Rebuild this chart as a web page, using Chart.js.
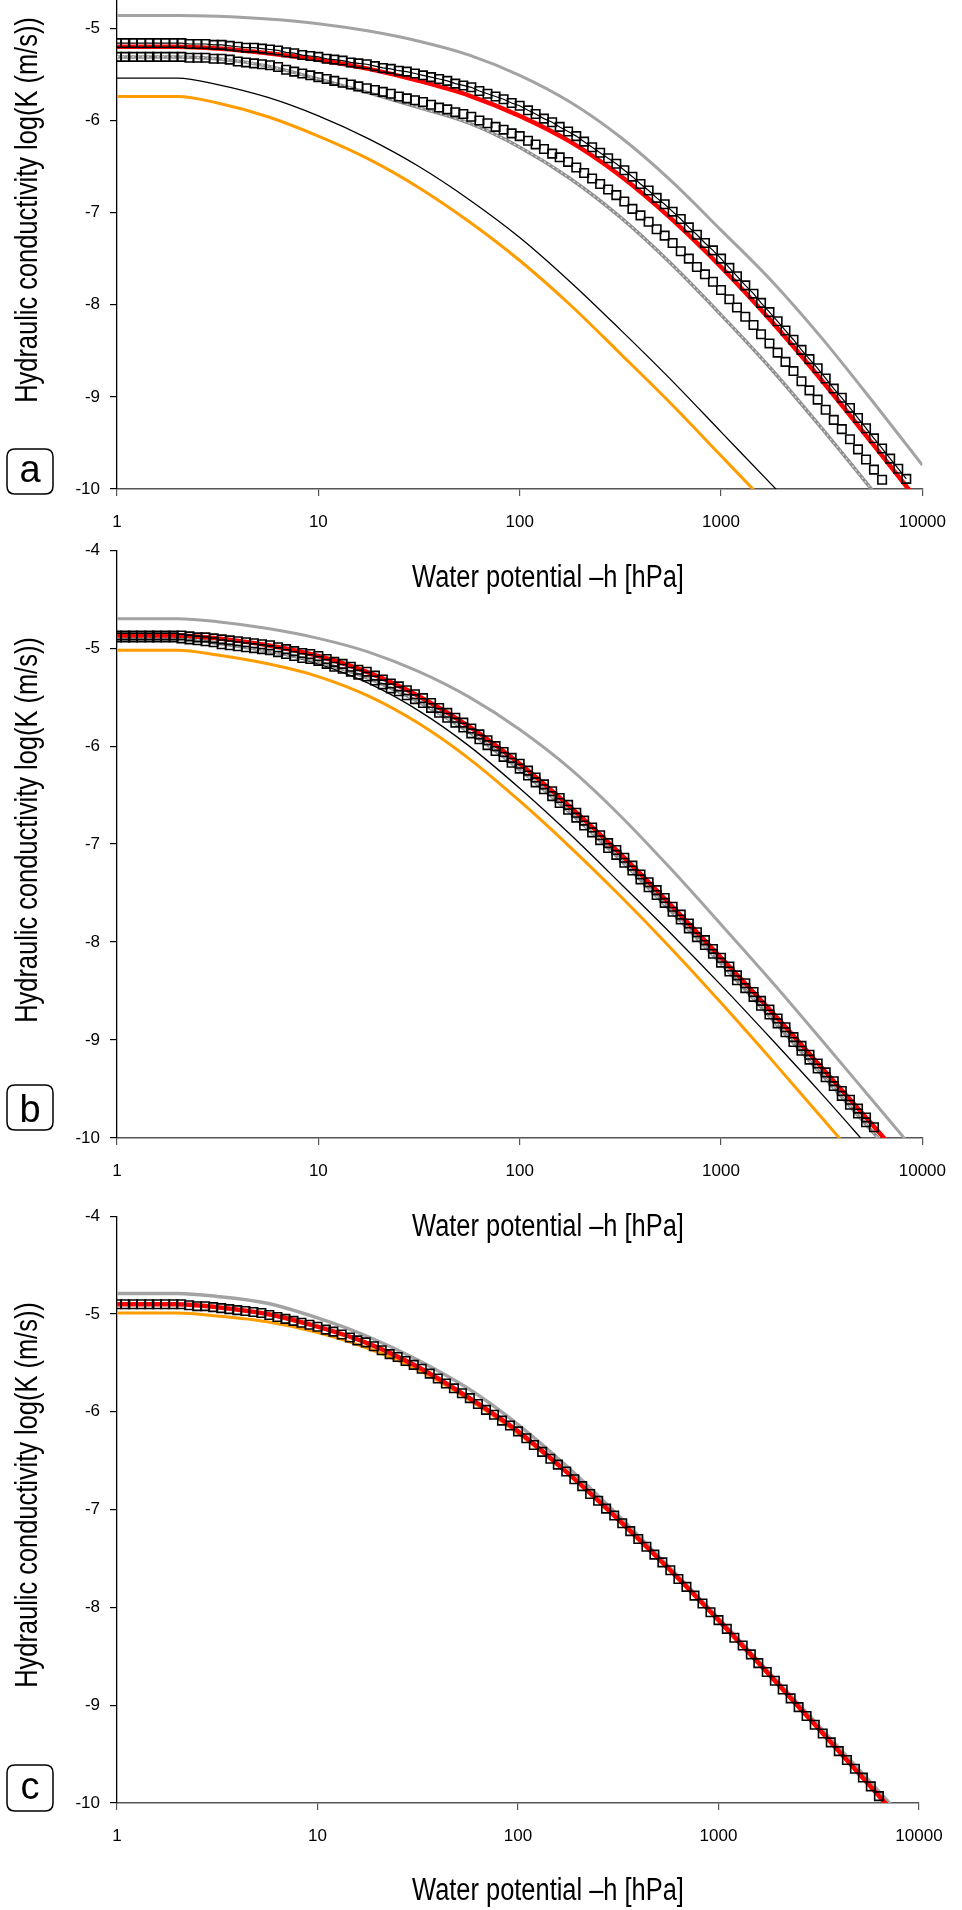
<!DOCTYPE html>
<html>
<head>
<meta charset="utf-8">
<script src="https://cdn.jsdelivr.net/npm/chart.js@4.4.1/dist/chart.umd.min.js"></script>
<style>
  html, body { margin: 0; padding: 0; background: #fff; }
  #page { position: relative; width: 962px; height: 1910px; overflow: hidden; }
  #page canvas { position: absolute; left: 0; }
</style>
</head>
<body>
<div id="page">
  <canvas id="chartA" width="962" height="684" style="top:-84px"></canvas>
  <canvas id="chartB" width="962" height="720" style="top:530px"></canvas>
  <canvas id="chartC" width="962" height="714" style="top:1196px"></canvas>
</div>
<script>
// DONNEES
const xTicks = [1, 10, 100, 1000, 10000];

// h pour les courbes continues
const hLine = [1, 2, 3.16, 5.62, 10, 17.8, 31.6, 56.2, 100, 178, 316, 562, 1000, 1780, 3160, 5620, 10000];

// h pour les carres (mesures)
const hGrid = [
  1, 1.1, 1.2, 1.32, 1.45, 1.58, 1.74, 1.91, 2.09, 2.29, 2.51, 2.75, 3.02, 3.31, 3.63, 3.98, 4.37, 4.79, 5.25, 5.75, 6.31, 6.92, 7.59, 8.32, 9.12,
  10, 11, 12, 13.2, 14.5, 15.8, 17.4, 19.1, 20.9, 22.9, 25.1, 27.5, 30.2, 33.1, 36.3, 39.8, 43.7, 47.9, 52.5, 57.5, 63.1, 69.2, 75.9, 83.2, 91.2,
  100, 110, 120, 132, 145, 158, 174, 191, 209, 229, 251, 275, 302, 331, 363, 398, 437, 479, 525, 575, 631, 692, 759, 832, 912,
  1000, 1100, 1200, 1320, 1450, 1580, 1740, 1910, 2090, 2290, 2510, 2750, 3020, 3310, 3630, 3980, 4370, 4790, 5250, 5750, 6310, 6920, 7590, 8320, 9120,
  10000
];

// panneau a
const aGrayTop = [-4.86, -4.86, -4.87, -4.90, -4.95, -5.03, -5.14, -5.29, -5.51, -5.80, -6.18, -6.65, -7.19, -7.74, -8.36, -9.04, -9.74];
const aRed     = [-5.20, -5.20, -5.22, -5.27, -5.34, -5.44, -5.57, -5.73, -5.95, -6.23, -6.60, -7.06, -7.59, -8.18, -8.82, -9.50, -10.19];
const aGrayJag = [-5.31, -5.31, -5.33, -5.41, -5.55, -5.70, -5.86, -6.03, -6.29, -6.63, -7.05, -7.55, -8.11, -8.70, -9.34, -10.01, -10.70];
const aBlack   = [-5.54, -5.54, -5.61, -5.75, -5.95, -6.20, -6.50, -6.86, -7.27, -7.75, -8.27, -8.81, -9.38, -9.95, -10.52, -11.10, -11.68];
const aOrange  = [-5.74, -5.74, -5.81, -5.96, -6.17, -6.42, -6.73, -7.10, -7.52, -8.00, -8.53, -9.07, -9.64, -10.21, -10.78, -11.36, -11.94];
const aUpperSq = [
  -5.16, -5.16, -5.16, -5.16, -5.16, -5.16, -5.16, -5.16,
  -5.16, -5.17, -5.17, -5.17, -5.18,
  -5.18, -5.19, -5.20, -5.21, -5.21, -5.22,
  -5.23, -5.24, -5.26, -5.27, -5.29, -5.30, -5.31,
  -5.33, -5.34, -5.35, -5.37, -5.38, -5.39,
  -5.41, -5.43, -5.44, -5.46, -5.47, -5.49,
  -5.51, -5.53, -5.55, -5.57, -5.60, -5.62,
  -5.64, -5.68, -5.71, -5.74, -5.77, -5.81, -5.84,
  -5.89, -5.93, -5.98, -6.02, -6.07, -6.12,
  -6.17, -6.23, -6.29, -6.35, -6.41, -6.47,
  -6.54, -6.61, -6.69, -6.76, -6.84, -6.91,
  -6.99, -7.07, -7.16, -7.24, -7.33, -7.41, -7.50,
  -7.60, -7.69, -7.79, -7.88, -7.98, -8.08,
  -8.18, -8.28, -8.38, -8.49, -8.59, -8.69,
  -8.80, -8.91, -9.01, -9.12, -9.23, -9.34,
  -9.45, -9.56, -9.67, -9.78, -9.89
];
const aLowerSq = [
  -5.31, -5.31, -5.31, -5.31, -5.31, -5.31, -5.31, -5.31,
  -5.31, -5.32, -5.32, -5.32, -5.33,
  -5.33, -5.34, -5.36, -5.37, -5.38, -5.39,
  -5.40, -5.42, -5.45, -5.47, -5.49, -5.51, -5.53,
  -5.55, -5.57, -5.59, -5.61, -5.63, -5.65,
  -5.67, -5.69, -5.71, -5.74, -5.76, -5.78,
  -5.80, -5.83, -5.86, -5.88, -5.91, -5.93,
  -5.96, -6.00, -6.03, -6.07, -6.10, -6.14, -6.17,
  -6.22, -6.26, -6.31, -6.36, -6.40, -6.45,
  -6.51, -6.57, -6.63, -6.69, -6.75, -6.81,
  -6.88, -6.96, -7.03, -7.10, -7.18, -7.25,
  -7.33, -7.42, -7.50, -7.59, -7.67, -7.75, -7.84,
  -7.94, -8.03, -8.13, -8.22, -8.32, -8.42,
  -8.52, -8.62, -8.72, -8.83, -8.93, -9.03,
  -9.14, -9.25, -9.35, -9.46, -9.57, -9.68,
  -9.79, -9.90
];

// panneau b
const bGrayTop = [-4.70, -4.70, -4.73, -4.80, -4.90, -5.04, -5.24, -5.50, -5.83, -6.23, -6.71, -7.25, -7.82, -8.40, -9.00, -9.61, -10.22];
const bRed     = [-4.87, -4.87, -4.90, -4.97, -5.08, -5.25, -5.49, -5.80, -6.18, -6.62, -7.10, -7.62, -8.16, -8.71, -9.28, -9.86, -10.45];
const bGrayJag = [-4.89, -4.89, -4.95, -5.03, -5.14, -5.31, -5.55, -5.86, -6.24, -6.68, -7.16, -7.68, -8.22, -8.78, -9.35, -9.93, -10.51];
const bBlack   = [-4.89, -4.89, -4.94, -5.03, -5.16, -5.36, -5.64, -6.00, -6.43, -6.90, -7.40, -7.91, -8.44, -8.99, -9.55, -10.13, -10.71];
const bOrange  = [-5.02, -5.02, -5.07, -5.16, -5.29, -5.49, -5.77, -6.13, -6.56, -7.03, -7.53, -8.06, -8.62, -9.20, -9.79, -10.39, -10.99];
const bUpperSq = [
  -4.87, -4.87, -4.87, -4.87, -4.87, -4.87, -4.87, -4.87,
  -4.87, -4.88, -4.89, -4.89, -4.90,
  -4.91, -4.92, -4.93, -4.94, -4.95, -4.96,
  -4.97, -4.99, -5.01, -5.03, -5.05, -5.06, -5.08,
  -5.11, -5.14, -5.16, -5.19, -5.22, -5.24,
  -5.28, -5.32, -5.36, -5.39, -5.43, -5.47,
  -5.51, -5.56, -5.61, -5.66, -5.71, -5.76,
  -5.82, -5.88, -5.94, -6.00, -6.06, -6.12, -6.18,
  -6.25, -6.32, -6.39, -6.46, -6.53, -6.60,
  -6.68, -6.76, -6.83, -6.91, -6.99, -7.06,
  -7.14, -7.22, -7.31, -7.39, -7.47, -7.55,
  -7.64, -7.72, -7.81, -7.90, -7.98, -8.07, -8.16,
  -8.25, -8.34, -8.42, -8.51, -8.60, -8.69,
  -8.78, -8.87, -8.97, -9.06, -9.15, -9.24,
  -9.33, -9.42, -9.52, -9.61, -9.70, -9.79,
  -9.89
];
const bLowerSq = [
  -4.89, -4.89, -4.89, -4.89, -4.89, -4.89, -4.89, -4.89,
  -4.90, -4.91, -4.92, -4.93, -4.94,
  -4.96, -4.97, -4.98, -4.99, -5.00, -5.01,
  -5.02, -5.04, -5.06, -5.08, -5.10, -5.11, -5.13,
  -5.16, -5.19, -5.21, -5.24, -5.27, -5.29,
  -5.33, -5.37, -5.41, -5.44, -5.48, -5.52,
  -5.56, -5.61, -5.66, -5.71, -5.76, -5.81,
  -5.87, -5.93, -5.99, -6.05, -6.11, -6.17, -6.23,
  -6.30, -6.37, -6.44, -6.51, -6.58, -6.65,
  -6.73, -6.81, -6.88, -6.96, -7.04, -7.11,
  -7.19, -7.27, -7.36, -7.44, -7.52, -7.60,
  -7.69, -7.77, -7.86, -7.95, -8.03, -8.12, -8.21,
  -8.30, -8.39, -8.47, -8.56, -8.65, -8.74,
  -8.83, -8.92, -9.02, -9.11, -9.20, -9.29,
  -9.38, -9.47, -9.57, -9.66, -9.75, -9.84
];

// panneau c
const cGrayTop = [-4.79, -4.79, -4.82, -4.89, -5.04, -5.23, -5.47, -5.76, -6.13, -6.57, -7.06, -7.58, -8.11, -8.66, -9.21, -9.77, -10.33];
const cRed     = [-4.90, -4.90, -4.93, -5.00, -5.13, -5.30, -5.54, -5.85, -6.20, -6.63, -7.10, -7.60, -8.13, -8.68, -9.24, -9.81, -10.39];
const cOrange  = [-4.99, -4.99, -5.02, -5.08, -5.19, -5.35, -5.57, -5.87, -6.22, -6.64, -7.11, -7.61, -8.14, -8.69, -9.25, -9.82, -10.40];
const cSq = [
  -4.90, -4.90, -4.90, -4.90, -4.90, -4.90, -4.90, -4.90,
  -4.90, -4.91, -4.92, -4.92, -4.93,
  -4.94, -4.95, -4.96, -4.97, -4.98, -4.99,
  -5.01, -5.03, -5.05, -5.07, -5.09, -5.11, -5.13,
  -5.16, -5.18, -5.21, -5.24, -5.27, -5.29,
  -5.33, -5.37, -5.41, -5.44, -5.48, -5.52,
  -5.56, -5.61, -5.66, -5.71, -5.76, -5.81,
  -5.86, -5.92, -5.98, -6.03, -6.09, -6.14, -6.20,
  -6.27, -6.34, -6.41, -6.48, -6.54, -6.61,
  -6.69, -6.76, -6.84, -6.91, -6.99, -7.06,
  -7.14, -7.22, -7.30, -7.38, -7.46, -7.54,
  -7.62, -7.71, -7.79, -7.88, -7.96, -8.05, -8.13,
  -8.22, -8.31, -8.39, -8.48, -8.57, -8.66,
  -8.75, -8.84, -8.93, -9.02, -9.11, -9.20,
  -9.29, -9.38, -9.47, -9.56, -9.65, -9.74,
  -9.83, -9.93
];

const xTitle = 'Water potential \u2013h [hPa]';
const yTitle = 'Hydraulic conductivity log(K (m/s))';


// POLICE ETROITE (si disponible)
function hasFont(name) {
  const c = document.createElement('canvas').getContext('2d');
  const s = 'Hydraulic 10000 Water';
  c.font = '40px monospace';
  const w0 = c.measureText(s).width;
  c.font = '40px "' + name + '", monospace';
  return c.measureText(s).width !== w0;
}
const NARROW = hasFont('Liberation Sans Narrow');
const tickFont = NARROW
  ? { family: '"Liberation Sans Narrow"', size: 21 }
  : { family: '"Liberation Sans", Arial, sans-serif', size: 17 };

function narrowText(ctx, text, x, y, size, rotate) {
  ctx.save();
  ctx.translate(x, y);
  if (rotate) ctx.rotate(-Math.PI / 2);
  if (NARROW) {
    ctx.font = size + 'px "Liberation Sans Narrow"';
  } else {
    ctx.font = size + 'px "Liberation Sans", Arial, sans-serif';
    ctx.scale(0.82, 1);
  }
  ctx.fillStyle = '#000';
  ctx.textAlign = 'center';
  ctx.textBaseline = 'middle';
  ctx.fillText(text, 0, 0);
  ctx.restore();
}


// TEXTES DU PANNEAU (titres + etiquette a/b/c)
const panelText = {
  id: 'panelText',
  afterDraw(chart, args, opts) {
    const ctx = chart.ctx;
    const top = opts.canvasTop;
    narrowText(ctx, xTitle, 548, opts.xTitleY - top, 31, false);
    narrowText(ctx, yTitle, 28, opts.yTitleY - top, 31, true);

    // boite arrondie
    const b = opts.box;
    const x = b[0], y = b[1] - top, w = b[2], h = b[3], r = 8;
    ctx.save();
    ctx.beginPath();
    ctx.moveTo(x + r, y);
    ctx.lineTo(x + w - r, y);
    ctx.quadraticCurveTo(x + w, y, x + w, y + r);
    ctx.lineTo(x + w, y + h - r);
    ctx.quadraticCurveTo(x + w, y + h, x + w - r, y + h);
    ctx.lineTo(x + r, y + h);
    ctx.quadraticCurveTo(x, y + h, x, y + h - r);
    ctx.lineTo(x, y + r);
    ctx.quadraticCurveTo(x, y, x + r, y);
    ctx.closePath();
    ctx.lineWidth = 1.5;
    ctx.strokeStyle = '#000';
    ctx.stroke();
    ctx.font = '38px "Liberation Sans", Arial, sans-serif';
    ctx.fillStyle = '#000';
    ctx.textAlign = 'center';
    ctx.textBaseline = 'alphabetic';
    const m = ctx.measureText(opts.label);
    const cy = y + h / 2 + (m.actualBoundingBoxAscent - m.actualBoundingBoxDescent) / 2;
    ctx.fillText(opts.label, x + w / 2, cy);
    ctx.restore();
  }
};


// JEUX DE DONNEES
const pts = (xs, ys) => ys.map((y, i) => ({ x: xs[i], y: y }));

function lineSet(ys, color, width, extra) {
  return Object.assign({
    data: pts(hLine, ys),
    borderColor: color,
    borderWidth: width,
    pointRadius: 0,
    cubicInterpolationMode: 'monotone',
    fill: false
  }, extra || {});
}

function squareSet(ys, withLine) {
  return {
    data: pts(hGrid, ys),
    showLine: !!withLine,
    borderColor: '#000',
    borderWidth: 1.2,
    tension: 0,
    pointStyle: 'rect',
    pointRadius: 6,
    pointBorderColor: '#000',
    pointBorderWidth: 1.6,
    pointBackgroundColor: 'rgba(255,255,255,0)'
  };
}

const GRAY = '#a3a3a3';
const ORANGE = '#ff9d00';
const RED = '#ff0000';


// CONSTRUCTION D'UN PANNEAU
function makePanel(id, p) {
  const xPad = NARROW ? 14 : 16;
  new Chart(document.getElementById(id), {
    type: 'line',
    data: { datasets: p.datasets },
    options: {
      responsive: false,
      animation: false,
      devicePixelRatio: 1,
      layout: { padding: { left: 0, top: 15, right: 962 - p.right, bottom: p.bottomPad } },
      plugins: {
        legend: { display: false },
        tooltip: { enabled: false },
        panelText: p.text
      },
      scales: {
        x: {
          type: 'logarithmic',
          min: 1,
          max: 10000,
          afterBuildTicks: s => { s.ticks = xTicks.map(v => ({ value: v })); },
          afterFit: s => { s.height = 60; },
          ticks: {
            autoSkip: false, maxRotation: 0, color: '#000', padding: xPad,
            font: tickFont,
            callback: v => String(v)
          },
          grid: { drawOnChartArea: false, drawTicks: true, tickLength: 7, color: '#555', lineWidth: 1.2 },
          border: { display: true, color: '#555', width: 1.5 }
        },
        y: {
          type: 'linear',
          min: -10,
          max: -4,
          afterFit: s => { s.width = 117; },
          ticks: { stepSize: 1, color: '#000', padding: 10, font: tickFont },
          grid: { drawOnChartArea: false, drawTicks: true, tickLength: 7, color: '#000', lineWidth: 1.2 },
          border: { display: true, color: '#000', width: 1.3 }
        }
      }
    },
    plugins: [panelText]
  });
}

// le premier jeu est dessine au-dessus
makePanel('chartA', {
  right: 931, bottomPad: 51,
  text: { canvasTop: -84, xTitleY: 578, yTitleY: 210, box: [7, 449, 46, 45], label: 'a' },
  datasets: [
    squareSet(aUpperSq, true),
    squareSet(aLowerSq, false),
    lineSet(aRed, RED, 4.5),
    lineSet(aGrayJag, '#dcdcdc', 1.2, { borderDash: [2, 3] }),
    lineSet(aGrayJag, '#8f8f8f', 3.5),
    lineSet(aBlack, '#000', 1.3),
    lineSet(aOrange, ORANGE, 3),
    lineSet(aGrayTop, GRAY, 3)
  ]
});

makePanel('chartB', {
  right: 929, bottomPad: 52,
  text: { canvasTop: 530, xTitleY: 1227, yTitleY: 830, box: [7, 1085, 46, 45], label: 'b' },
  datasets: [
    squareSet(bUpperSq, false),
    squareSet(bLowerSq, false),
    lineSet(bRed, RED, 4.5),
    lineSet(bGrayJag, '#dcdcdc', 1.2, { borderDash: [2, 3] }),
    lineSet(bGrayJag, '#8f8f8f', 3.5),
    lineSet(bBlack, '#000', 1.3),
    lineSet(bOrange, ORANGE, 3),
    lineSet(bGrayTop, GRAY, 3)
  ]
});

makePanel('chartC', {
  right: 919, bottomPad: 47,
  text: { canvasTop: 1196, xTitleY: 1891, yTitleY: 1495, box: [7, 1765, 46, 46], label: 'c' },
  datasets: [
    squareSet(cSq, false),
    lineSet(cRed, RED, 4.5),
    lineSet(cOrange, ORANGE, 3),
    lineSet(cGrayTop, GRAY, 3.5)
  ]
});
</script>
</body>
</html>
